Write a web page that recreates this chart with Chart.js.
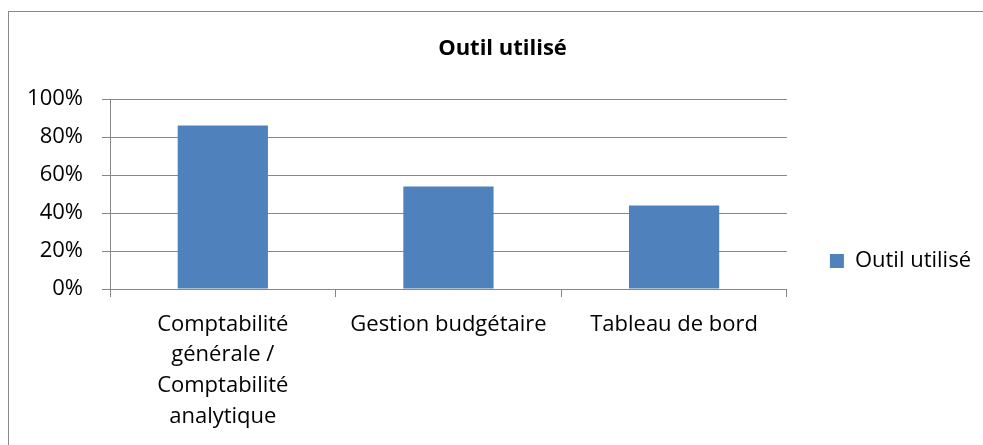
<!DOCTYPE html>
<html lang="fr">
<head>
<meta charset="utf-8">
<title>Outil utilisé</title>
<script src="https://cdn.jsdelivr.net/npm/chart.js@4/dist/chart.umd.min.js"></script>
<style>
  html, body { margin: 0; padding: 0; background: #ffffff; overflow: hidden; }
  #wrap { position: relative; width: 983px; height: 445px; overflow: hidden; }
  #frame {
    position: absolute; left: 8px; top: 11px; width: 1000px; height: 460px;
    border: 1px solid #8a8a8a; box-sizing: border-box;
  }
  #chart { position: absolute; left: 0; top: 0; }
</style>
</head>
<body>
<div id="wrap">
  <div id="frame"></div>
  <canvas id="chart" width="983" height="445"></canvas>
</div>
<script>
// Categories (multi-line labels are given as arrays of lines)
const categories = [
  ['Comptabilité', 'générale /', 'Comptabilité', 'analytique'],
  'Gestion budgétaire',
  'Tableau de bord'
];
// Share of respondents using each tool, in percent
const outilUtilise = [86, 54, 44];
// Value-axis tick labels
const yTicks = [0, 20, 40, 60, 80, 100];

const seriesName = 'Outil utilisé';
const chartTitle = 'Outil utilisé';

const gridColor = '#868686';
const barColor = '#4F81BD';

Chart.defaults.font.family = "'Open Sans', 'Noto Sans', sans-serif";
Chart.defaults.color = '#000000';

new Chart(document.getElementById('chart'), {
  type: 'bar',
  data: {
    labels: categories,
    datasets: [{
      label: seriesName,
      data: outilUtilise,
      backgroundColor: barColor,
      borderWidth: 0,
      barPercentage: 0.4,
      categoryPercentage: 1.0
    }]
  },
  options: {
    responsive: false,
    animation: false,
    layout: { padding: { left: 24, right: 2, top: 0, bottom: 0 } },
    plugins: {
      title: {
        display: true,
        text: chartTitle,
        color: '#000000',
        font: { size: 22, weight: 'bold', lineHeight: 1.2 },
        padding: { top: 36, bottom: 36.6 }
      },
      legend: {
        position: 'right',
        align: 'start',
        // blank legend heading used only as vertical spacing above the key
        title: {
          display: true,
          text: ' ',
          font: { size: 10, lineHeight: 1 },
          padding: { top: 197, bottom: 0 }
        },
        labels: {
          boxWidth: 14,
          boxHeight: 14,
          padding: 43,
          color: '#000000',
          font: { size: 22 }
        }
      },
      tooltip: { enabled: false }
    },
    scales: {
      x: {
        grid: {
          display: true,
          drawOnChartArea: false,
          drawTicks: true,
          tickLength: 8,
          color: gridColor,
          offset: true
        },
        border: { display: true, color: gridColor, width: 1 },
        ticks: {
          padding: 12,
          maxRotation: 0,
          autoSkip: false,
          font: { size: 22, lineHeight: 1.4 },
          color: '#000000'
        },
        afterFit(scale) { scale.height = 156; }
      },
      y: {
        min: 0,
        max: 100,
        afterBuildTicks(scale) { scale.ticks = yTicks.map(v => ({ value: v })); },
        grid: {
          color: gridColor,
          lineWidth: 1,
          drawTicks: true,
          tickLength: 8
        },
        border: { display: true, color: gridColor, width: 1 },
        ticks: {
          padding: 19,
          font: { size: 22 },
          color: '#000000',
          callback: v => v + '%'
        },
        afterFit(scale) { scale.width = 86; }
      }
    }
  }
});
</script>
</body>
</html>
